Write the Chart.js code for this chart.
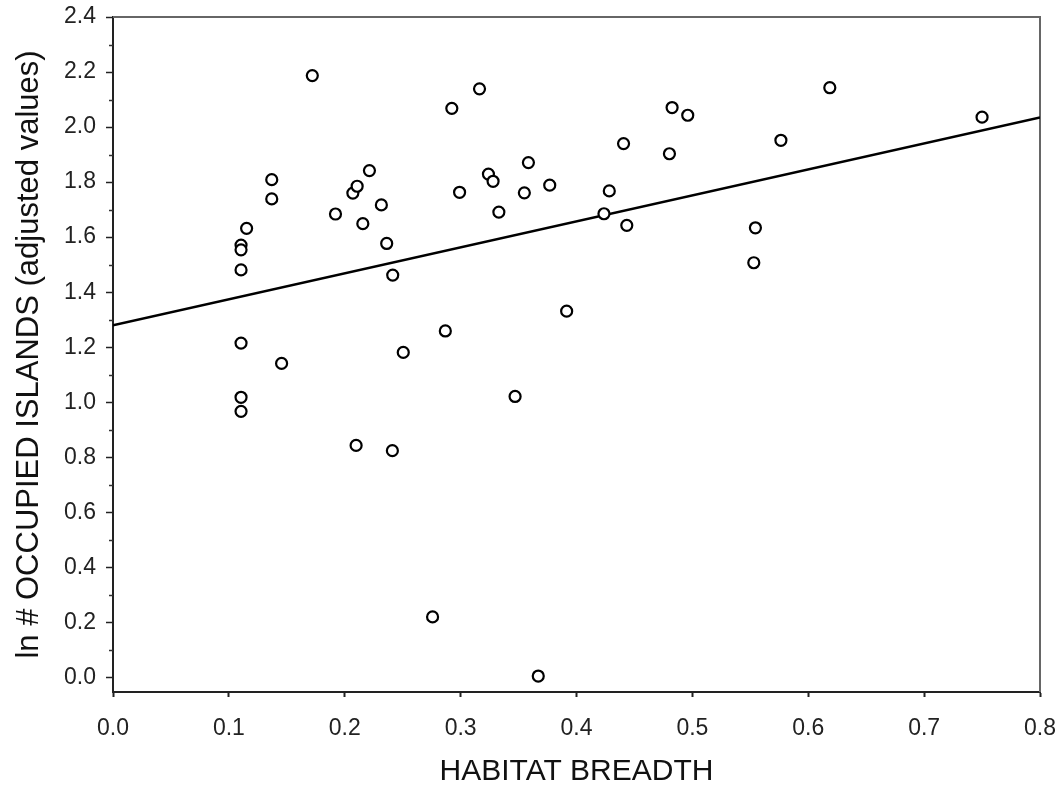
<!DOCTYPE html>
<html>
<head>
<meta charset="utf-8">
<title>Habitat breadth</title>
<script src="https://cdn.jsdelivr.net/npm/chart.js@4.4.1/dist/chart.umd.min.js"></script>
<style>
  html, body { margin: 0; padding: 0; background: #fff; }
  #wrap { width: 1064px; height: 790px; }
</style>
</head>
<body>
<div id="wrap"><canvas id="grafico" width="1064" height="790"></canvas></div>
<script>
// datos
const habitatBreadth = [
    0.1105, 0.1105, 0.1105, 0.1105, 0.1105, 0.1105, 0.1153, 0.137, 0.137, 0.1455,
    0.172, 0.192, 0.207, 0.2107, 0.2098, 0.2156, 0.2213, 0.2316, 0.2362, 0.2414,
    0.2411, 0.2505, 0.2758, 0.2868, 0.2924, 0.2991, 0.3163, 0.324, 0.328, 0.333,
    0.347, 0.355, 0.3585, 0.367, 0.3769, 0.3915, 0.4237, 0.4283, 0.4406, 0.4434,
    0.4802, 0.4825, 0.496, 0.553, 0.5544, 0.5764, 0.6186, 0.750
];
const lnIslands = [
    1.571, 1.554, 1.481, 1.215, 1.018, 0.967, 1.632, 1.809, 1.739, 1.141,
    2.187, 1.684, 1.760, 1.785, 0.843, 1.649, 1.842, 1.717, 1.577, 1.462,
    0.824, 1.181, 0.220, 1.259, 2.068, 1.763, 2.139, 1.829, 1.803, 1.691,
    1.021, 1.761, 1.871, 0.005, 1.789, 1.331, 1.685, 1.768, 1.940, 1.643,
    1.903, 2.071, 2.043, 1.507, 1.634, 1.952, 2.143, 2.036
];
// recta de regresion (extremos)
const fitX = [0.0, 0.8];
const fitY = [1.28, 2.035];

const xTicks = [0.0, 0.1, 0.2, 0.3, 0.4, 0.5, 0.6, 0.7, 0.8];
const yTicks = [0.0, 0.2, 0.4, 0.6, 0.8, 1.0, 1.2, 1.4, 1.6, 1.8, 2.0, 2.2, 2.4];
const yMinorTicks = [0.1, 0.3, 0.5, 0.7, 0.9, 1.1, 1.3, 1.5, 1.7, 1.9, 2.1, 2.3];

const puntos = habitatBreadth.map((x, i) => ({ x: x, y: lnIslands[i] }));
const recta = fitX.map((x, i) => ({ x: x, y: fitY[i] }));

// marco superior/derecho y ticks menores del eje y
const marco = {
    id: 'marco',
    beforeDatasetsDraw(chart) {
        const a = chart.chartArea;
        const c = chart.ctx;
        const y = chart.scales.y;
        c.save();
        c.strokeStyle = '#666';
        c.lineWidth = 2;
        c.beginPath();
        c.moveTo(a.left, a.top);
        c.lineTo(a.right, a.top);
        c.lineTo(a.right, a.bottom);
        c.stroke();

        c.strokeStyle = '#333';
        c.lineWidth = 1.5;
        c.beginPath();
        yMinorTicks.forEach(v => {
            const py = Math.round(y.getPixelForValue(v)) + 0.5;
            c.moveTo(a.left - 4, py);
            c.lineTo(a.left, py);
        });
        c.stroke();
        c.restore();
    }
};

const ctx = document.getElementById('grafico').getContext('2d');
new Chart(ctx, {
    type: 'scatter',
    data: {
        datasets: [
            {
                label: 'datos',
                data: puntos,
                pointRadius: 5.5,
                pointBorderWidth: 2.2,
                pointBorderColor: '#000',
                pointBackgroundColor: '#fff',
                order: 1
            },
            {
                label: 'ajuste',
                type: 'line',
                data: recta,
                showLine: true,
                borderColor: '#000',
                borderWidth: 2.5,
                pointRadius: 0,
                fill: false,
                order: 2
            }
        ]
    },
    options: {
        responsive: false,
        animation: false,
        layout: { padding: { top: 17, right: 24, left: 0, bottom: 0 } },
        plugins: {
            legend: { display: false },
            tooltip: { enabled: false }
        },
        scales: {
            x: {
                type: 'linear',
                min: 0,
                max: 0.8,
                afterFit: s => { s.height = 98; s.paddingLeft = 0; s.paddingRight = 0; },
                afterBuildTicks: s => { s.ticks = xTicks.map(v => ({ value: v })); },
                grid: { drawOnChartArea: false, tickLength: 5, color: '#222', tickWidth: 2 },
                border: { color: '#222', width: 2 },
                ticks: {
                    autoSkip: false,
                    maxRotation: 0,
                    padding: 18,
                    color: '#222',
                    font: { family: 'Liberation Sans, Arial, sans-serif', size: 23 },
                    callback: v => Number(v).toFixed(1)
                },
                title: {
                    display: true,
                    text: 'HABITAT BREADTH',
                    color: '#111',
                    padding: { top: 7, bottom: 0 },
                    font: { family: 'Liberation Sans, Arial, sans-serif', size: 30 }
                }
            },
            y: {
                type: 'linear',
                min: -0.053,
                max: 2.4,
                afterFit: s => { s.width = 113; s.paddingTop = 0; s.paddingBottom = 0; },
                afterBuildTicks: s => { s.ticks = yTicks.map(v => ({ value: v })); },
                grid: { drawOnChartArea: false, tickLength: 7, color: '#222', tickWidth: 1.5 },
                border: { color: '#222', width: 2 },
                ticks: {
                    autoSkip: false,
                    padding: 10,
                    color: '#222',
                    font: { family: 'Liberation Sans, Arial, sans-serif', size: 23 },
                    callback: v => Number(v).toFixed(1)
                },
                title: {
                    display: true,
                    text: 'ln # OCCUPIED ISLANDS (adjusted values)',
                    color: '#111',
                    padding: { top: 11, bottom: 11 },
                    font: { family: 'Liberation Sans, Arial, sans-serif', size: 31 }
                }
            }
        }
    },
    plugins: [marco]
});
</script>
</body>
</html>
